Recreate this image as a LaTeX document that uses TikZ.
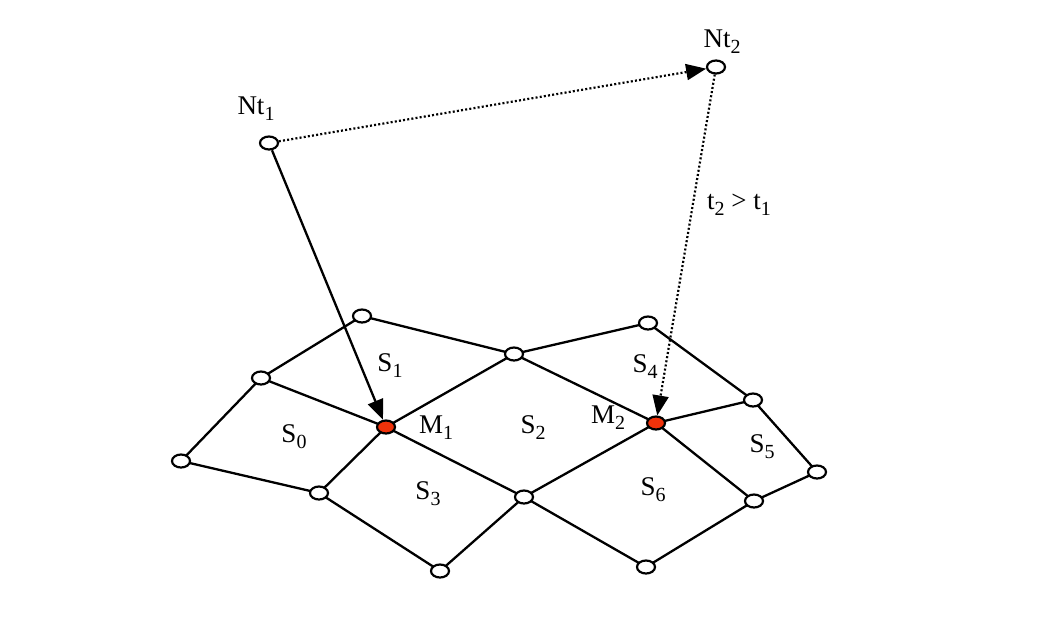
\documentclass[tikz,border=0pt]{standalone}
\usepackage{fontspec}
\setmainfont{Liberation Serif}
\usetikzlibrary{shapes.geometric,arrows.meta}
\newcommand{\sbs}[1]{\raisebox{-0.22em}{\fontsize{20}{20}\selectfont #1}}
\begin{document}
\begin{tikzpicture}[x=1pt,y=-1pt,
  pt/.style={ellipse,draw=black,line width=2.2pt,fill=white,minimum width=18pt,minimum height=13pt,inner sep=0pt},
  red pt/.style={pt,fill={rgb,255:red,240;green,50;blue,10}},
  edge/.style={line width=2.3pt},
  lbl/.style={font=\fontsize{27}{30}\selectfont,inner sep=0pt},
  tip/.style={-{Triangle[length=20pt,width=16pt]}},
  dots/.style={line width=2.2pt,dash pattern=on 2pt off 2.2pt}]
\useasboundingbox (0,0) rectangle (1043,640);
\coordinate (ca) at (362,316);
\coordinate (cb) at (261,378);
\coordinate (cc) at (181,461);
\coordinate (cd) at (319,493);
\coordinate (cM1) at (386,427);
\coordinate (ce) at (514,354);
\coordinate (cf) at (648,323);
\coordinate (cg) at (753,400);
\coordinate (ch) at (817,472);
\coordinate (ci) at (754,501);
\coordinate (cM2) at (656,423);
\coordinate (cj) at (524,497);
\coordinate (ck) at (440,571);
\coordinate (cl) at (646,567);
\draw[edge] (ca)--(cb) (cb)--(cc) (cc)--(cd) (cd)--(cM1) (cb)--(cM1) (cM1)--(ce)
  (ca)--(ce) (ce)--(cf) (ce)--(cM2) (cf)--(cg) (cg)--(ch) (ch)--(ci)
  (cM2)--(cg) (cM2)--(ci) (cM2)--(cj) (cM1)--(cj) (cd)--(ck) (ck)--(cj)
  (cj)--(cl) (cl)--(ci);
\node[pt] (a) at (ca) {};
\node[pt] (b) at (cb) {};
\node[pt] (c) at (cc) {};
\node[pt] (d) at (cd) {};
\node[red pt] (M1) at (cM1) {};
\node[pt] (e) at (ce) {};
\node[pt] (f) at (cf) {};
\node[pt] (g) at (cg) {};
\node[pt] (h) at (ch) {};
\node[pt] (i) at (ci) {};
\node[red pt] (M2) at (cM2) {};
\node[pt] (j) at (cj) {};
\node[pt] (k) at (ck) {};
\node[pt] (l) at (cl) {};
\node[pt] (Nt1) at (269,143) {};
\node[pt] (Nt2) at (716,67) {};
\draw[edge,tip] (Nt1) -- (M1);
\draw[dots,tip] (Nt1) -- (Nt2);
\draw[dots,tip] (Nt2) -- (M2);
\node[lbl] (lNt1) at (256,109) {Nt\sbs{1}};
\node[lbl] (lNt2) at (722,42) {Nt\sbs{2}};
\node[lbl] (lt) at (739,205) {t\sbs{2} > t\sbs{1}};
\node[lbl] (lS0) at (294,437) {S\sbs{0}};
\node[lbl] (lS1) at (390,366) {S\sbs{1}};
\node[lbl] (lS2) at (533,428) {S\sbs{2}};
\node[lbl] (lS3) at (428,494) {S\sbs{3}};
\node[lbl] (lS4) at (645,367) {S\sbs{4}};
\node[lbl] (lS5) at (762,447) {S\sbs{5}};
\node[lbl] (lS6) at (653,490) {S\sbs{6}};
\node[lbl] (lM1) at (436,428) {M\sbs{1}};
\node[lbl] (lM2) at (608,418) {M\sbs{2}};
\end{tikzpicture}
\end{document}
